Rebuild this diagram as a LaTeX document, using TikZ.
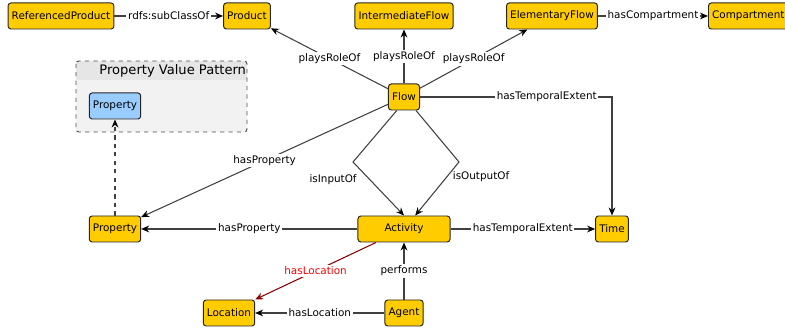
\documentclass[tikz,border=0pt]{standalone}
\usepackage{fontspec}
\setmainfont{DejaVu Sans}
\usetikzlibrary{arrows.meta}
\definecolor{clsyellow}{HTML}{FFCC00}
\definecolor{clsblue}{HTML}{99CCFF}
\definecolor{groupbg}{HTML}{F2F2F2}
\definecolor{grouphead}{HTML}{E6E6E6}
\definecolor{locred}{HTML}{8B0000}

\begin{document}
\begin{tikzpicture}[x=0.025cm, y=-0.025cm,
  every node/.style={font=\fontsize{7.4}{9}\selectfont},
  cls/.style={draw=black!85, line width=0.7pt, fill=clsyellow, rounded corners=2pt, minimum height=0.65cm, inner xsep=2.6pt},
  rel/.style={draw=black!75, line width=0.75pt, -{Stealth[length=0.2cm, width=0.17cm, black]}},
  lbl/.style={fill=white, inner sep=1.2pt}]
\useasboundingbox (0,0) rectangle (785,333);

% property value pattern box
\begin{scope}
\clip[rounded corners=2pt] (76,61) rectangle (247,132);
\fill[groupbg] (76,61) rectangle (247,132);
\fill[grouphead] (76,61) rectangle (247,80);
\end{scope}
\draw[black!70, dashed, line width=0.7pt, rounded corners=2pt] (76,61) rectangle (247,132);
\node[anchor=east, inner sep=0.5pt, font=\fontsize{9.3}{11}\selectfont] (pvptitle) at (247,71) {Property Value Pattern};

% classes
\node[cls] (refprod) at (61,16) {ReferencedProduct};
\node[cls] (product) at (247,16) {Product};
\node[cls] (interflow) at (404,16) {IntermediateFlow};
\node[cls] (elemflow) at (552,16) {ElementaryFlow};
\node[cls, anchor=west] (compartment) at (708,16) {Compartment};
\node[cls, fill=clsblue] (propb) at (115,106) {Property};
\node[cls] (flow) at (404,97) {Flow};
\node[cls] (propy) at (115,229) {Property};
\node[cls, minimum width=2.3cm] (activity) at (404,229) {Activity};
\node[cls] (time) at (612,229) {Time};
\node[cls] (location) at (229,313) {Location};
\node[cls] (agent) at (404,313) {Agent};

\coordinate (inbend) at (353,162);
\coordinate (outbend) at (459,162);

% relations
\draw[rel] (refprod) -- node[lbl] {rdfs:subClassOf} (product);
\draw[rel] (elemflow) -- node[lbl] {hasCompartment} (compartment);
\draw[rel] (flow) -- node[lbl] {playsRoleOf} (product);
\draw[rel] (flow) -- node[lbl] {playsRoleOf} (interflow);
\draw[rel] (flow) -- node[lbl] {playsRoleOf} (elemflow);
\draw[rel] (flow.east) -| node[lbl, pos=0.33] {hasTemporalExtent} (time.north);
\draw[rel] ([xshift=-0.18cm]flow.south) -- (inbend) -- node[pos=0.33, left=8pt, inner sep=1pt] {isInputOf} (activity.north);
\draw[rel] ([xshift=0.3cm]flow.south) -- (outbend) -- node[pos=0.28, right=3pt, inner sep=1pt] {isOutputOf} ([xshift=0.28cm]activity.north);
\draw[rel] (flow) -- node[lbl] {hasProperty} (propy);
\draw[rel] (activity) -- node[lbl] {hasProperty} (propy);
\draw[rel] (activity) -- node[lbl] {hasTemporalExtent} (time);
\draw[rel] (agent) -- node[lbl] {performs} (activity);
\draw[rel] (agent) -- node[lbl] {hasLocation} (location);
\draw[rel, draw=locred, -{Stealth[length=0.2cm, width=0.17cm, locred]}] ([xshift=-0.7cm]activity.south) -- node[lbl, text=red] {hasLocation} (location.north east);
\draw[rel, dashed] (propy) -- (propb);
\end{tikzpicture}
\end{document}
